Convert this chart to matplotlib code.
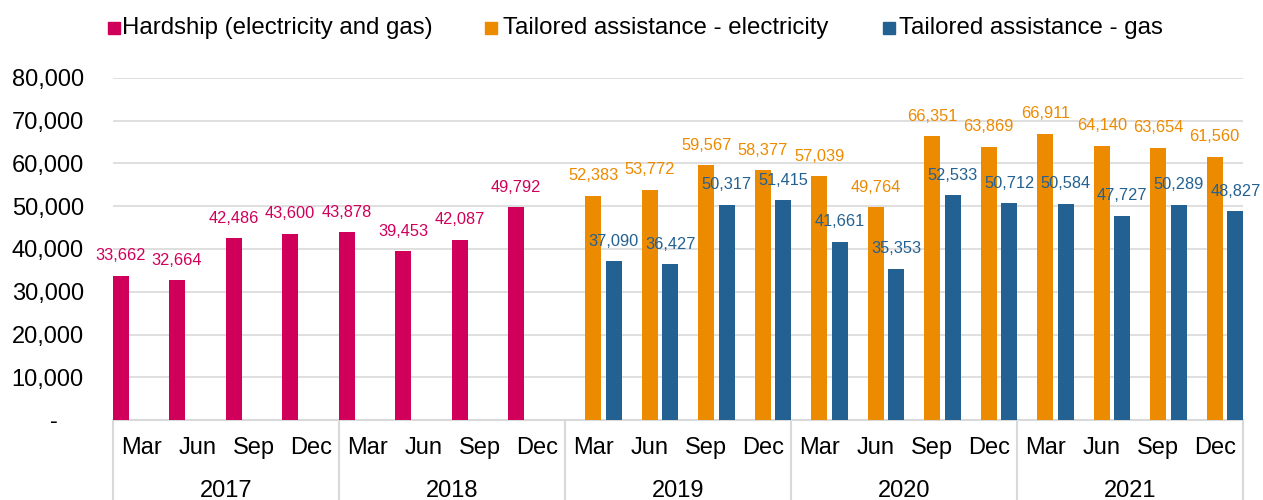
import matplotlib
matplotlib.use("Agg")
import matplotlib.pyplot as plt
import matplotlib.transforms as mtransforms
from matplotlib.patches import Rectangle
import numpy as np

plt.rcParams['font.family'] = ['Liberation Sans', 'DejaVu Sans']

years = ["2017", "2018", "2019", "2020", "2021"]
months = ["Mar", "Jun", "Sep", "Dec"]

hardship = [33662, 32664, 42486, 43600, 43878, 39453, 42087, 49792]
electricity = [52383, 53772, 59567, 58377, 57039, 49764, 66351, 63869,
               66911, 64140, 63654, 61560]
gas = [37090, 36427, 50317, 51415, 41661, 35353, 52533, 50712,
       50584, 47727, 50289, 48827]

series_names = ["Hardship (electricity and gas)",
                "Tailored assistance - electricity",
                "Tailored assistance - gas"]
c_pink = "#D0005A"
c_orange = "#EC8A00"
c_blue = "#236192"

W, H = 1263, 500
fig = plt.figure(figsize=(W / 100, H / 100), dpi=100)
ax = fig.add_axes([113 / W, 80 / H, 1130 / W, 342 / H])

n = len(years) * len(months)
x = np.arange(n)
bw = 0.283
off = 0.366

xh = x[:len(hardship)]
xe = x[len(hardship):]
b1 = ax.bar(xh - off, hardship, bw, color=c_pink, zorder=3)
b2 = ax.bar(xe, electricity, bw, color=c_orange, zorder=3)
b3 = ax.bar(xe + off, gas, bw, color=c_blue, zorder=3)

for bars, vals, col in [(b1, hardship, c_pink), (b2, electricity, c_orange), (b3, gas, c_blue)]:
    for b, v in zip(bars, vals):
        ax.annotate(f"{v:,}", (b.get_x() + b.get_width() / 2, v),
                    xytext=(0, 14.5), textcoords="offset points",
                    ha="center", va="center", fontsize=11.8, color=col, zorder=5)

ax.set_xlim(-0.5, n - 0.5)
ax.set_ylim(0, 80000)
yt = np.arange(0, 80001, 10000)
ax.set_yticks(yt)
ax.set_yticklabels(["-    " if v == 0 else f"{v:,}" for v in yt])
ax.tick_params(axis='y', length=0, pad=21, labelsize=17, labelcolor="#000000")
ax.set_xticks([])
ax.grid(axis='y', color="#D9D9D9", linewidth=1.2, zorder=0)
for s in ["top", "right", "left"]:
    ax.spines[s].set_visible(False)
ax.spines["bottom"].set_color("#D9D9D9")
ax.spines["bottom"].set_linewidth(1.5)

trans = mtransforms.blended_transform_factory(ax.transData, ax.transAxes)
ylow = -80 / 342
for i in range(len(years) + 1):
    xv = i * 4 - 0.5
    ax.plot([xv, xv], [0, ylow], transform=trans, color="#D9D9D9",
            linewidth=1.5, clip_on=False)
for i in range(n):
    ax.text(x[i], -28 / 342, months[i % 4], transform=trans, ha="center",
            va="center", fontsize=17)
for j, yr in enumerate(years):
    ax.text(j * 4 + 1.5, -71 / 342, yr, transform=trans, ha="center",
            va="center", fontsize=17)

# legend
leg = [(108, 122, c_pink, series_names[0]),
       (485, 503, c_orange, series_names[1]),
       (883, 899, c_blue, series_names[2])]
for sx, tx, col, name in leg:
    fig.patches.append(Rectangle((sx / W, 1 - 34 / H), 12 / W, 12 / H,
                                 transform=fig.transFigure, color=col))
    fig.text(tx / W, 1 - 28 / H, name, ha="left", va="center", fontsize=17.3)

fig.savefig("out.png", dpi=100)
